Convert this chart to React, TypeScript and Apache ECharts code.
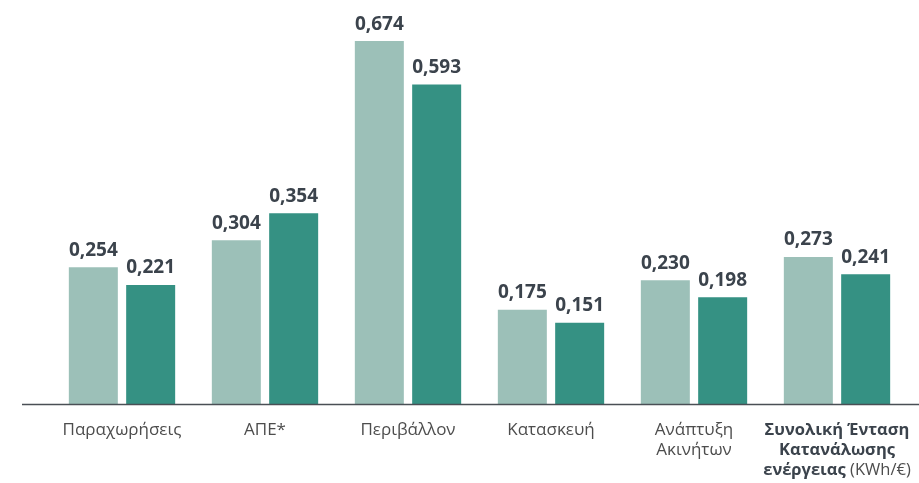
import React, { useEffect, useRef } from "react";
import * as echarts from "echarts";

const categories = [
  "Παραχωρήσεις",
  "ΑΠΕ*",
  "Περιβάλλον",
  "Κατασκευή",
  "Ανάπτυξη\nΑκινήτων",
  "TOTAL",
];
const seriesPrev = [0.254, 0.304, 0.674, 0.175, 0.23, 0.273];
const seriesCurr = [0.221, 0.354, 0.593, 0.151, 0.198, 0.241];

const FONT = "'Open Sans', 'Noto Sans', sans-serif";

export default function App() {
  const ref = useRef<HTMLDivElement>(null);

  useEffect(() => {
    if (!ref.current) return;
    const chart = echarts.init(ref.current, null, { renderer: "svg" });
    const label = {
      show: true,
      position: "top",
      distance: 9,
      fontFamily: FONT,
      fontWeight: "bold",
      fontSize: 19,
      color: "#3b434c",
      formatter: (p: any) => p.value.toFixed(3).replace(".", ","),
    };
    chart.setOption({
      animation: false,
      textStyle: { fontFamily: FONT },
      grid: { left: 50.5, right: 10.5, top: 41, bottom: 79 },
      xAxis: {
        type: "category",
        data: categories,
        axisLine: { show: false },
        axisTick: { show: false },
        axisLabel: {
          margin: 14,
          fontFamily: FONT,
          fontSize: 17,
          color: "#4d4d4d",
          lineHeight: 20,
          interval: 0,
          formatter: (v: string) =>
            v === "TOTAL"
              ? "{b|Συνολική Ένταση}\n{b|Κατανάλωσης}\n{b|ενέργειας} {n|(KWh/€)}"
              : v,
          rich: {
            b: {
              fontFamily: FONT,
              fontWeight: "bold",
              fontSize: 16.5,
              color: "#3b434c",
              lineHeight: 20,
            },
            n: {
              fontFamily: FONT,
              fontSize: 16.5,
              color: "#4d4d4d",
              lineHeight: 20,
            },
          },
        },
      },
      yAxis: {
        type: "value",
        min: 0,
        max: 0.674,
        show: false,
        splitLine: { show: false },
      },
      graphic: [
        {
          type: "line",
          shape: { x1: 22, y1: 404.5, x2: 919, y2: 404.5 },
          style: { stroke: "#4a4f55", lineWidth: 1.5 },
          z: 10,
        },
      ],
      series: [
        {
          type: "bar",
          data: seriesPrev,
          barWidth: 49,
          barGap: "17%",
          itemStyle: { color: "#9cc0b8" },
          label,
        },
        {
          type: "bar",
          data: seriesCurr,
          barWidth: 49,
          itemStyle: { color: "#359183" },
          label,
        },
      ],
    });
    return () => chart.dispose();
  }, []);

  return (
    <div
      ref={ref}
      style={{ position: "fixed", left: 0, top: 0, width: 919, height: 483 }}
    />
  );
}
